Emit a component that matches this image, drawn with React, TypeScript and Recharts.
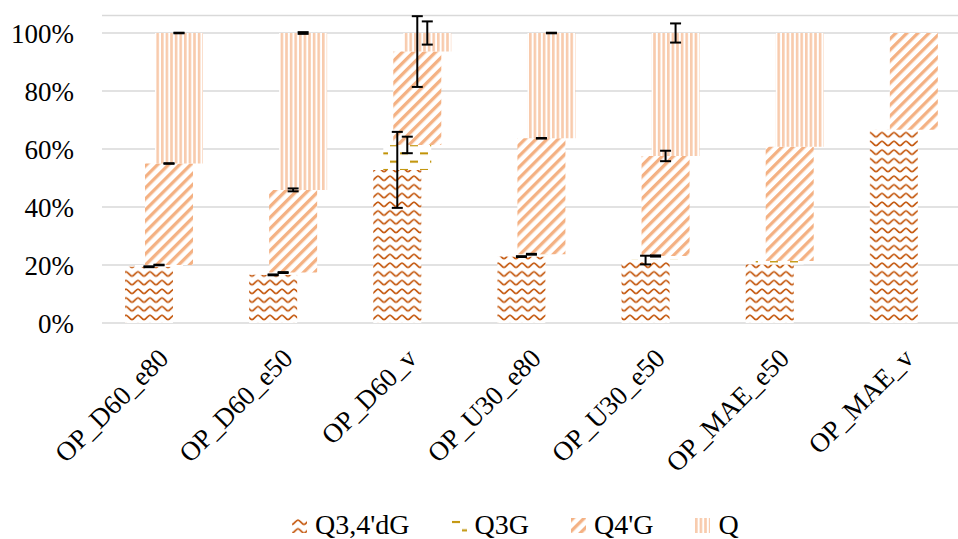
import React from 'react';
import { BarChart, Bar, XAxis, YAxis, CartesianGrid, ErrorBar, Legend } from 'recharts';

const categories = ['OP_D60_e80', 'OP_D60_e50', 'OP_D60_v', 'OP_U30_e80', 'OP_U30_e50', 'OP_MAE_e50', 'OP_MAE_v'];
const seriesNames = ["Q3,4'dG", 'Q3G', "Q4'G", 'Q'];

// segment shares (%) of each series, stacked bottom to top
const q34dG = [19.4, 16.6, 52.8, 22.9, 21.7, 20.2, 66.6];
const q3G = [0.6, 0.8, 8.6, 0.8, 1.4, 1.2, 0];
const q4G = [35.0, 28.5, 32.2, 40.0, 34.5, 39.4, 33.4];
const qShare = [45.0, 54.1, 6.4, 36.3, 42.4, 39.2, 0];

// error bar half-ranges (%)
const err34dG = [0.15, 0.15, 13.1, 0.15, 1.5, 0, 0];
const err3G = [0.1, 0.15, 2.85, 0.15, 0.2, 0, 0];
const err4G = [0.1, 0.5, 12.2, 0.1, 1.8, 0, 0];
const errQ = [0.1, 0.3, 4.0, 0.1, 3.3, 0, 0];

const yTicks = [0, 20, 40, 60, 80, 100];

const data = categories.map((name, i) => {
  const t1 = q34dG[i];
  const t2 = t1 + q3G[i];
  const t3 = t2 + q4G[i];
  const t4 = t3 + qShare[i];
  return {
    name,
    s1: [0, t1],
    s2: [t1, t2],
    s3: [t2, t3],
    s4: [t3, t4],
    e1: err34dG[i],
    e2: err3G[i],
    e3: err4G[i],
    e4: errQ[i],
  };
});

const patternIds = ['pWave', 'pDash', 'pDiag', 'pVert'];
const FONT = '"Liberation Serif", "Times New Roman", serif';

const XTick = (props: any) => {
  const { x, y, payload } = props;
  const px = x + 6;
  const py = y + 37;
  return (
    <text
      x={px}
      y={py}
      textAnchor="end"
      transform={`rotate(-45, ${px}, ${py})`}
      fontFamily={FONT}
      fontSize={27}
      fill="#000"
    >
      {payload.value}
    </text>
  );
};

const LegendContent = () => (
  <div style={{ display: 'flex', alignItems: 'center', fontFamily: FONT, fontSize: 28, color: '#000', whiteSpace: 'nowrap' }}>
    {seriesNames.map((n, i) => (
      <div key={n} style={{ display: 'flex', alignItems: 'center', marginRight: 42 }}>
        <svg width={15} height={15} style={{ display: 'block' }}>
          <rect x={0} y={0} width={15} height={15} fill={`url(#${patternIds[i]})`} />
        </svg>
        <span style={{ marginLeft: 8 }}>{n}</span>
      </div>
    ))}
  </div>
);

export default function App() {
  return (
    <div style={{ position: 'absolute', left: 0, top: 0, width: 958, height: 539, overflow: 'hidden', background: '#fff' }}>
      <BarChart
        width={971}
        height={539}
        data={data}
        margin={{ top: 15.6, right: 0, bottom: 0, left: 0 }}
        barSize={48}
        barGap={-38}
      >
        <defs>
          <pattern id="pWave" patternUnits="userSpaceOnUse" width={12} height={8.7}>
            <rect width={12} height={8.7} fill="#fff" />
            <path d="M0,6.5 C2,6.5 4,2 6,2 C8,2 10,6.5 12,6.5" fill="none" stroke="#C55A11" strokeWidth={1.7} />
          </pattern>
          <pattern id="pDash" patternUnits="userSpaceOnUse" width={20} height={16.6}>
            <rect width={20} height={16.6} fill="#fff" />
            <line x1={0} x2={8} y1={4} y2={4} stroke="#BF9000" strokeWidth={2} />
            <line x1={10} x2={18} y1={12.3} y2={12.3} stroke="#BF9000" strokeWidth={2} />
          </pattern>
          <pattern id="pDiag" patternUnits="userSpaceOnUse" width={7.8} height={7.8} patternTransform="rotate(45)">
            <rect width={7.8} height={7.8} fill="#fff" />
            <rect x={0} y={0} width={3.3} height={7.8} fill="#F4B183" />
          </pattern>
          <pattern id="pVert" patternUnits="userSpaceOnUse" width={4.6} height={10}>
            <rect width={4.6} height={10} fill="#fff" />
            <rect x={0} y={0} width={2.6} height={10} fill="#F8CBAD" />
          </pattern>
        </defs>
        <CartesianGrid vertical={false} stroke="#D9D9D9" strokeWidth={1.5} />
        <XAxis
          dataKey="name"
          height={216}
          axisLine={false}
          tickLine={false}
          tickSize={0}
          tickMargin={0}
          interval={0}
          tick={<XTick />}
        />
        <YAxis
          width={102}
          domain={[0, 106]}
          ticks={yTicks}
          axisLine={false}
          tickLine={false}
          tickSize={0}
          tickMargin={28}
          tickFormatter={(v: number) => `${v}%`}
          tick={{ fontFamily: FONT, fontSize: 27, fill: '#000' }}
        />
        <Legend
          verticalAlign="middle"
          align="center"
          layout="horizontal"
          wrapperStyle={{ top: 509, left: 292, width: 'auto', height: 32 }}
          content={<LegendContent />}
        />
        <Bar dataKey="s1" name={seriesNames[0]} fill="url(#pWave)" isAnimationActive={false}>
          <ErrorBar dataKey="e1" width={5.5} stroke="#000" strokeWidth={2} direction="y" />
        </Bar>
        <Bar dataKey="s2" name={seriesNames[1]} fill="url(#pDash)" isAnimationActive={false}>
          <ErrorBar dataKey="e2" width={5.5} stroke="#000" strokeWidth={2} direction="y" />
        </Bar>
        <Bar dataKey="s3" name={seriesNames[2]} fill="url(#pDiag)" isAnimationActive={false}>
          <ErrorBar dataKey="e3" width={5.5} stroke="#000" strokeWidth={2} direction="y" />
        </Bar>
        <Bar dataKey="s4" name={seriesNames[3]} fill="url(#pVert)" isAnimationActive={false}>
          <ErrorBar dataKey="e4" width={5.5} stroke="#000" strokeWidth={2} direction="y" />
        </Bar>
      </BarChart>
    </div>
  );
}
